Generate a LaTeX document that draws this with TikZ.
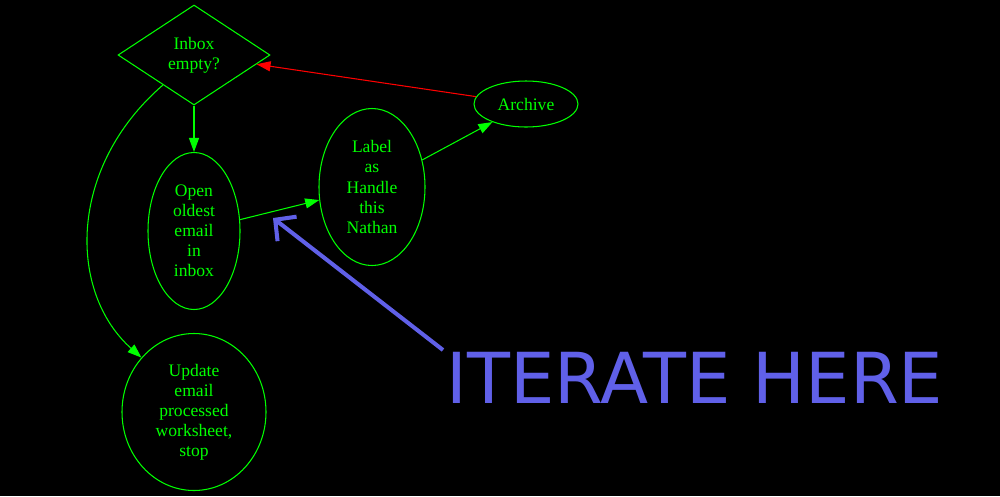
\documentclass[tikz,border=0pt]{standalone}
\usepackage{fontspec}
\setmainfont{Liberation Serif}
\newfontfamily\notefont{DejaVu Sans}
\usepackage{tikz}
\usetikzlibrary{arrows.meta,shapes.geometric,positioning}
\definecolor{gvgreen}{RGB}{0,255,0}
\definecolor{gvred}{RGB}{255,0,0}
\definecolor{noteblue}{RGB}{96,96,232}
\tikzstyle{flow} = [line width=0.6pt, color=gvgreen, -{Triangle[length=0.28cm,width=0.2cm]}]
\tikzstyle{task} = [ellipse, draw=gvgreen, line width=0.6pt, text=gvgreen, inner sep=0pt, align=center, font=\fontsize{10}{11.4}\selectfont]
\tikzstyle{decision} = [diamond, draw=gvgreen, line width=0.6pt, text=gvgreen, inner sep=0pt, align=center, font=\fontsize{10}{11.4}\selectfont]

\begin{document}
\begin{tikzpicture}
% background
\fill[black] (0,0) rectangle (20,-9.92);
\useasboundingbox (0,0) rectangle (20,-9.92);

% Nodes
\node (inbox) [decision, minimum width=3.04cm, minimum height=2cm] at (3.88,-1.10) {Inbox\\empty?};
\node (open) [task, minimum width=1.84cm, minimum height=3.14cm] at (3.88,-4.62) {Open\\oldest\\email\\in\\inbox};
\node (label) [task, minimum width=2.12cm, minimum height=3.14cm] at (7.44,-3.74) {Label\\as\\Handle\\this\\Nathan};
\node (archive) [task, minimum width=2.08cm, minimum height=0.92cm] at (10.52,-2.08) {Archive};
\node (update) [task, minimum width=2.88cm, minimum height=3.14cm] at (3.88,-8.24) {Update\\email\\processed\\worksheet,\\stop};

% Edges
\draw[flow] (inbox.south) -- (open);
\draw[flow] (open) -- (label);
\draw[flow] (label) -- (archive);
\draw[flow, color=gvred] (archive) -- (inbox);
\draw[flow] (inbox.-136) .. controls +(-1.92,-1.66) and +(-1.46,1.30) .. (update.134);

% Note
\node (note) [anchor=base west, inner sep=0pt, text=noteblue, font=\notefont\fontsize{40}{48}\selectfont] at (8.92,-8.06) {ITERATE HERE};
\coordinate (tail) at (8.86,-7.00);
\coordinate (tip) at (5.46,-4.36);
\draw[noteblue, line width=2.3pt, -{Straight Barb[length=0.3cm,width=0.62cm]}] (tail) -- (tip);
\end{tikzpicture}
\end{document}
